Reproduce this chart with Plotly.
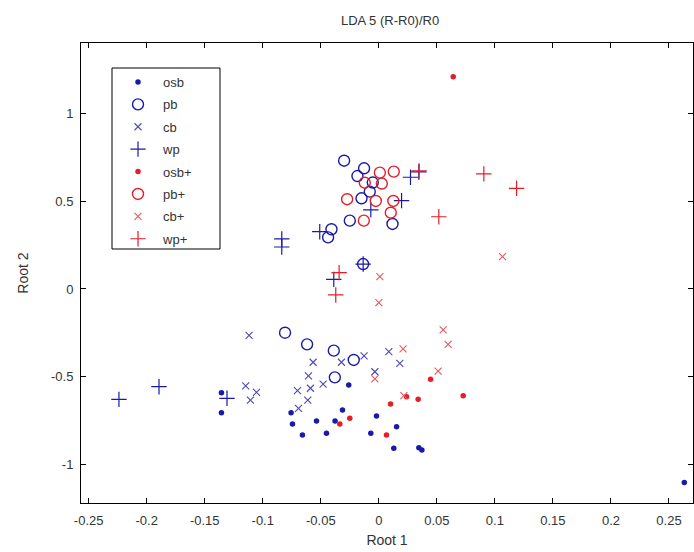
import plotly.graph_objects as go

# ---- data ----
osb_x = [-0.1356, -0.1356, -0.0756, -0.0744, -0.0537, -0.0658, -0.0451, -0.0377, -0.0313,
         -0.0259, -0.0020, -0.0069, 0.0153, 0.0129, 0.0345, 0.0371, 0.2632]
osb_y = [-0.590, -0.704, -0.704, -0.768, -0.751, -0.831, -0.821, -0.751, -0.689,
         -0.546, -0.723, -0.821, -0.784, -0.907, -0.903, -0.916, -1.102]

pb_x = [-0.0808, -0.0618, -0.0388, -0.0216, -0.0379, -0.0299, -0.0127, -0.0184, -0.0052,
        -0.0078, -0.0149, -0.0250, 0.0118, -0.0408, -0.0437, -0.0135]
pb_y = [-0.249, -0.315, -0.351, -0.404, -0.503, 0.730, 0.687, 0.643, 0.606,
        0.554, 0.516, 0.389, 0.370, 0.340, 0.294, 0.142]

cb_x = [-0.1118, -0.1147, -0.1054, -0.1106, -0.0566, -0.0322, -0.0127, 0.0086, 0.0181,
        -0.0034, -0.0606, -0.0480, -0.0701, -0.0589, -0.0612, -0.0692]
cb_y = [-0.264, -0.552, -0.588, -0.632, -0.417, -0.417, -0.381, -0.357, -0.423,
        -0.471, -0.495, -0.541, -0.579, -0.565, -0.632, -0.679]

wp_x = [-0.2239, -0.1894, -0.1308, -0.0836, -0.0836, -0.0509, -0.0135, -0.0388, -0.0069,
        0.0196, 0.0273, 0.0345]
wp_y = [-0.628, -0.556, -0.622, 0.285, 0.239, 0.326, 0.142, 0.055, 0.450,
        0.503, 0.636, 0.666]

osbp_x = [0.0641, -0.0336, -0.0250, 0.0066, 0.0101, 0.0239, 0.0339, 0.0446, 0.0727]
osbp_y = [1.208, -0.768, -0.736, -0.831, -0.655, -0.613, -0.628, -0.514, -0.607]

pbp_x = [0.0009, 0.0129, -0.0121, 0.0026, -0.0273, -0.0026, 0.0125, 0.0103, -0.0129]
pbp_y = [0.662, 0.668, 0.605, 0.600, 0.511, 0.501, 0.501, 0.434, 0.389]

cbp_x = [0.0009, 0.0000, 0.0554, 0.0597, 0.0209, 0.0511, -0.0034, 0.0216, 0.1066]
cbp_y = [0.070, -0.078, -0.233, -0.315, -0.341, -0.467, -0.512, -0.607, 0.184]

wpp_x = [0.0347, 0.0905, 0.1187, 0.0517, -0.0342, -0.0371]
wpp_y = [0.672, 0.655, 0.573, 0.411, 0.093, -0.034]

x_tickvals = [-0.25, -0.2, -0.15, -0.1, -0.05, 0, 0.05, 0.1, 0.15, 0.2, 0.25]
x_ticktext = ["-0.25", "-0.2", "-0.15", "-0.1", "-0.05", "0", "0.05", "0.1", "0.15", "0.2", "0.25"]
y_tickvals = [-1, -0.5, 0, 0.5, 1]
y_ticktext = ["-1", "-0.5", "0", "0.5", "1"]

BLUE = "#1a1aa8"
BLUE_L = "#4a4ab8"
RED = "#e41e26"
RED_L = "#e8585c"

series = [
    ("osb", osb_x, osb_y, "circle", 5.5, BLUE, 0),
    ("pb", pb_x, pb_y, "circle-open", 11, BLUE, 1.4),
    ("cb", cb_x, cb_y, "x-thin", 7, BLUE_L, 1.1),
    ("wp", wp_x, wp_y, "cross-thin", 11, BLUE, 1.2),
    ("osb+", osbp_x, osbp_y, "circle", 5.5, RED, 0),
    ("pb+", pbp_x, pbp_y, "circle-open", 11, RED, 1.4),
    ("cb+", cbp_x, cbp_y, "x-thin", 7, RED_L, 1.1),
    ("wp+", wpp_x, wpp_y, "cross-thin", 11, RED, 1.2),
]

fig = go.Figure()
for name, xs, ys, sym, size, col, lw in series:
    fig.add_trace(go.Scatter(
        x=xs, y=ys, mode="markers", name=name, legendgroup=name,
        marker=dict(symbol=sym, size=size, color=col,
                    line=dict(color=col, width=lw)),
    ))

FONT = "Liberation Sans, Arial, sans-serif"
axis_common = dict(
    showline=True, linecolor="black", linewidth=1, mirror="ticks",
    ticks="inside", ticklen=5, tickcolor="black", tickwidth=1,
    showgrid=False, zeroline=False,
    tickfont=dict(family=FONT, size=13, color="#333333"),
)

# legend frame (Matlab-style box), in plot-area fractions
fig.add_shape(type="rect", xref="paper", yref="paper",
              x0=(112 - 81) / 612, x1=(220 - 81) / 612,
              y0=(503 - 249) / 460, y1=(503 - 68) / 460,
              line=dict(color="black", width=1), fillcolor="white", layer="above")

fig.update_layout(
    width=694, height=552,
    margin=dict(l=81, r=1, t=43, b=49),
    paper_bgcolor="white", plot_bgcolor="white",
    font=dict(family=FONT, size=13, color="#333333"),
    title=dict(text="LDA 5 (R-R0)/R0", x=0.505, xref="paper", xanchor="center",
               y=1 - 20 / 552, yref="container", yanchor="middle",
               font=dict(family=FONT, size=13, color="#333333")),
    xaxis=dict(range=[-0.2566, 0.2707], tickvals=x_tickvals, ticktext=x_ticktext,
               ticklabelstandoff=5,
               title=dict(text="Root 1", standoff=8,
                          font=dict(family=FONT, size=14, color="#333333")),
               **axis_common),
    yaxis=dict(range=[-1.218, 1.4], tickvals=y_tickvals, ticktext=y_ticktext,
               ticklabelstandoff=4,
               title=dict(text="Root 2", standoff=19,
                          font=dict(family=FONT, size=14, color="#333333")),
               **axis_common),
    legend=dict(x=0.0523, y=0.9478, xanchor="left", yanchor="top",
                bgcolor="rgba(0,0,0,0)", borderwidth=0,
                font=dict(family=FONT, size=13, color="#333333"),
                tracegroupgap=2.5, itemwidth=40, itemsizing="trace"),
    showlegend=True,
)

fig.write_html("out.html", config={"displayModeBar": False},
               post_script="document.body.style.margin='0px';")
